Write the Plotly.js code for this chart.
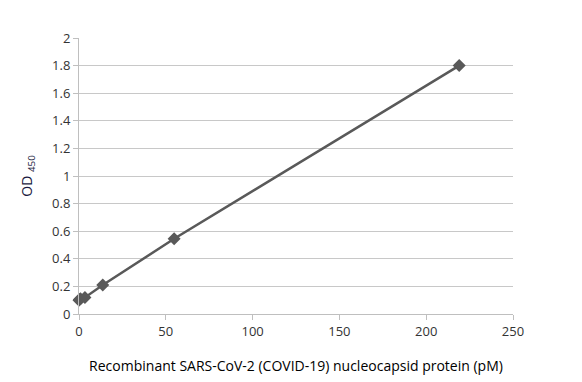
<!DOCTYPE html>
<html><head><meta charset="utf-8">
<script src="https://cdn.plot.ly/plotly-3.0.1.min.js"></script>
<style>html,body{margin:0;padding:0;background:#fff}#chart{width:582px;height:382px}</style>
</head><body><div id="chart"></div>
<script>
const concentration = [0, 0.214, 0.856, 3.42, 13.7, 54.8, 219];
const od450 = [0.10, 0.105, 0.11, 0.12, 0.21, 0.545, 1.80];
const xTicks = [0, 50, 100, 150, 200, 250];
const yTicks = [0, 0.2, 0.4, 0.6, 0.8, 1, 1.2, 1.4, 1.6, 1.8, 2];

const trace = {
  x: concentration, y: od450, type: 'scatter', mode: 'lines+markers',
  line: {color: '#595959', width: 2.5},
  marker: {symbol: 'diamond', size: 10, color: '#595959'},
  cliponaxis: false, hoverinfo: 'skip'
};
const font = {family: 'Open Sans, DejaVu Sans, sans-serif', size: 13, color: '#333333'};
const layout = {
  width: 582, height: 382,
  margin: {l: 79, r: 69, t: 38, b: 68},
  paper_bgcolor: '#fff', plot_bgcolor: '#fff',
  showlegend: false,
  font: font,
  xaxis: {
    range: [0, 250], tickvals: xTicks, ticktext: xTicks.map(String),
    showgrid: false, zeroline: false, showline: true, linecolor: '#bfbfbf', linewidth: 1,
    ticks: 'outside', ticklen: 5, tickcolor: '#bfbfbf',
    title: {text: 'Recombinant SARS-CoV-2 (COVID-19) nucleocapsid protein (pM)', font: {size: 14, color: '#000'}, standoff: 22}
  },
  yaxis: {
    range: [0, 2], tickvals: yTicks, ticktext: yTicks.map(String),
    showgrid: true, gridcolor: '#c8c8c8', gridwidth: 1, zeroline: false,
    showline: true, linecolor: '#bfbfbf', linewidth: 1,
    ticks: 'outside', ticklen: 5, tickcolor: '#bfbfbf',
    title: {text: 'OD <sub>450</sub>', font: {size: 14, color: '#1a1a40'}, standoff: 16}
  }
};
Plotly.newPlot('chart', [trace], layout, {displayModeBar: false, staticPlot: true});
</script></body></html>
